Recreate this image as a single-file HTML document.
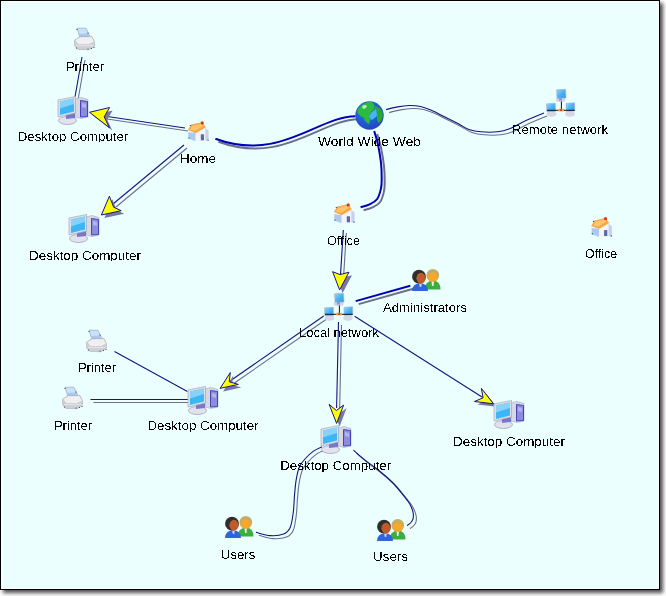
<!DOCTYPE html>
<html><head><meta charset="utf-8"><style>
html,body{margin:0;padding:0;background:#fff;width:666px;height:596px;overflow:hidden}
.frame{position:absolute;left:0;top:0;width:658px;height:588px;border:1px solid #000;background:#ecffff;box-shadow:inset 0 0 0 1px #fff, 3px 3px 4px rgba(0,0,0,0.7)}
svg{position:absolute;left:0;top:0}
text{font-family:"Liberation Sans",sans-serif;font-size:13px;fill:#000}
</style></head><body>
<div class="frame"></div>
<svg width="666" height="596" viewBox="0 0 666 596">
<defs><radialGradient id="gb" cx="0.4" cy="0.35" r="0.7"><stop offset="0" stop-color="#2a78e8"/><stop offset="0.8" stop-color="#1e50c8"/><stop offset="1" stop-color="#3a3ab0"/></radialGradient><linearGradient id="scr" x1="0" y1="0" x2="1" y2="1"><stop offset="0" stop-color="#9ad8fa"/><stop offset="0.5" stop-color="#4cb4f2"/><stop offset="1" stop-color="#3a8ee0"/></linearGradient><filter id="crisp" x="0" y="0" width="100%" height="100%"><feComponentTransfer><feFuncA type="discrete" tableValues="0 1"/></feComponentTransfer></filter></defs>
<path d="M82,57 L75,97" fill="none" stroke="#6c6e8a" stroke-width="1.1" transform="translate(3,3)"/><path d="M82,57 L75,97" fill="none" stroke="#14147c" stroke-width="1.1"/><path d="M185,128 L104,116" fill="none" stroke="#6c6e8a" stroke-width="1.1" transform="translate(3,3)"/><path d="M185,128 L104,116" fill="none" stroke="#14147c" stroke-width="1.1"/><polygon points="92.5,115.3 112.6,110.5 107.2,119.8 112.3,130.6" fill="#7676a8"/><polygon points="89.5,112.3 109.6,107.5 104.2,116.8 109.3,127.6" fill="#ffff00" stroke="#14147c" stroke-width="1.0" stroke-linejoin="miter"/><path d="M184,145 L113,204" fill="none" stroke="#6c6e8a" stroke-width="1.1" transform="translate(3,3)"/><path d="M184,145 L113,204" fill="none" stroke="#14147c" stroke-width="1.1"/><polygon points="104.4,218.0 112.4,199.2 116.7,210.2 124.2,213.7" fill="#7676a8"/><polygon points="101.4,215.0 109.4,196.2 113.7,207.2 121.2,210.7" fill="#ffff00" stroke="#14147c" stroke-width="1.0" stroke-linejoin="miter"/><path d="M215.4,138.7 C280.2,162.5 317.5,116.4 355.5,116.2" fill="none" stroke="#6c6e8a" stroke-width="2" transform="translate(3,3)"/><path d="M215.4,138.7 C280.2,162.5 317.5,116.4 355.5,116.2" fill="none" stroke="#0000b8" stroke-width="2"/><path d="M374.2,131 C374.8,133.3 376.9,139.3 378,144.6 C379.1,149.9 380.4,157.2 381,162.8 C381.6,168.4 381.7,173.6 381.7,177.9 C381.7,182.2 381.8,184.9 381,188.4 C380.2,191.9 379.1,196.3 377.2,199 C375.3,201.7 372.4,202.9 369.6,204.3 C366.8,205.7 362.1,206.8 360.6,207.3" fill="none" stroke="#6c6e8a" stroke-width="2" transform="translate(3,3)"/><path d="M374.2,131 C374.8,133.3 376.9,139.3 378,144.6 C379.1,149.9 380.4,157.2 381,162.8 C381.6,168.4 381.7,173.6 381.7,177.9 C381.7,182.2 381.8,184.9 381,188.4 C380.2,191.9 379.1,196.3 377.2,199 C375.3,201.7 372.4,202.9 369.6,204.3 C366.8,205.7 362.1,206.8 360.6,207.3" fill="none" stroke="#0000b8" stroke-width="2"/><path d="M386.1,109.6 C388.0,109.1 393.8,107.6 397.6,106.9 C401.4,106.2 405.2,105.6 409,105.5 C412.8,105.4 416.8,105.7 420.5,106.5 C424.2,107.3 427.3,108.5 431.4,110.3 C435.5,112.0 440.4,114.8 444.9,117 C449.4,119.2 454.4,121.7 458.4,123.8 C462.4,125.9 465.2,128.2 469,129.5 C472.8,130.8 476.2,131.4 481,131.8 C485.8,132.2 492.8,132.3 497.5,131.8 C502.2,131.3 504.8,130.7 509.5,128.8 C514.2,126.9 520.2,123.1 526,120.5 C531.8,117.9 541.0,114.2 544,113" fill="none" stroke="#6c6e8a" stroke-width="1.1" transform="translate(3,3)"/><path d="M386.1,109.6 C388.0,109.1 393.8,107.6 397.6,106.9 C401.4,106.2 405.2,105.6 409,105.5 C412.8,105.4 416.8,105.7 420.5,106.5 C424.2,107.3 427.3,108.5 431.4,110.3 C435.5,112.0 440.4,114.8 444.9,117 C449.4,119.2 454.4,121.7 458.4,123.8 C462.4,125.9 465.2,128.2 469,129.5 C472.8,130.8 476.2,131.4 481,131.8 C485.8,132.2 492.8,132.3 497.5,131.8 C502.2,131.3 504.8,130.7 509.5,128.8 C514.2,126.9 520.2,123.1 526,120.5 C531.8,117.9 541.0,114.2 544,113" fill="none" stroke="#14147c" stroke-width="1.1"/><path d="M343.3,230 L340.5,275" fill="none" stroke="#6c6e8a" stroke-width="1.1" transform="translate(3,3)"/><path d="M343.3,230 L340.5,275" fill="none" stroke="#14147c" stroke-width="1.1"/><polygon points="342.6,292.9 335.6,274.7 343.1,277.6 352.0,275.2" fill="#7676a8"/><polygon points="339.6,289.9 332.6,271.7 340.1,274.6 349.0,272.2" fill="#ffff00" stroke="#14147c" stroke-width="1.0" stroke-linejoin="miter"/><path d="M355.7,301.1 L410.3,285.7" fill="none" stroke="#6c6e8a" stroke-width="2" transform="translate(3,3)"/><path d="M355.7,301.1 L410.3,285.7" fill="none" stroke="#0000b8" stroke-width="2"/><path d="M323.7,316 L230,381" fill="none" stroke="#6c6e8a" stroke-width="1.1" transform="translate(3,3)"/><path d="M323.7,316 L230,381" fill="none" stroke="#14147c" stroke-width="1.1"/><polygon points="223.1,391.4 233.3,375.6 232.2,384.7 241.3,387.4" fill="#7676a8"/><polygon points="220.1,388.4 230.3,372.6 229.2,381.7 238.3,384.4" fill="#ffff00" stroke="#14147c" stroke-width="1.0" stroke-linejoin="miter"/><path d="M338.5,322 L336.6,408" fill="none" stroke="#6c6e8a" stroke-width="1.1" transform="translate(3,3)"/><path d="M338.5,322 L336.6,408" fill="none" stroke="#14147c" stroke-width="1.1"/><polygon points="339.6,426.4 332.1,407.3 339.4,413.5 346.6,408.1" fill="#7676a8"/><polygon points="336.6,423.4 329.1,404.3 336.4,410.5 343.6,405.1" fill="#ffff00" stroke="#14147c" stroke-width="1.0" stroke-linejoin="miter"/><path d="M354.6,316.3 L482.4,397.2" fill="none" stroke="#14147c" stroke-width="1.1"/><polygon points="496.5,406.8 484.4,391.4 486.1,400.8 477.4,404.5" fill="#7676a8"/><polygon points="493.5,403.8 481.4,388.4 483.1,397.8 474.4,401.5" fill="#ffff00" stroke="#14147c" stroke-width="1.0" stroke-linejoin="miter"/><path d="M114.5,351.5 L187.4,391.4" fill="none" stroke="#14147c" stroke-width="1.1"/><path d="M90.5,399.5 L188.5,399.5" fill="none" stroke="#6c6e8a" stroke-width="1.1" transform="translate(3,3)"/><path d="M90.5,399.5 L188.5,399.5" fill="none" stroke="#14147c" stroke-width="1.1"/><path d="M322.1,446.7 C320.7,447.4 316.6,448.9 313.8,450.9 C311.0,452.9 307.8,455.9 305.4,458.5 C303.0,461.1 301.1,463.2 299.5,466.8 C297.9,470.4 296.9,475.5 296.1,480.3 C295.3,485.1 295.0,490.1 294.5,495.4 C294.0,500.7 294.0,506.8 293.3,512.1 C292.6,517.4 291.9,523.6 290.3,527.2 C288.7,530.9 287.0,532.6 283.6,534 C280.2,535.4 274.7,535.9 270.1,535.6 C265.5,535.3 258.3,532.8 255.9,532.3" fill="none" stroke="#6c6e8a" stroke-width="1.1" transform="translate(3,3)"/><path d="M322.1,446.7 C320.7,447.4 316.6,448.9 313.8,450.9 C311.0,452.9 307.8,455.9 305.4,458.5 C303.0,461.1 301.1,463.2 299.5,466.8 C297.9,470.4 296.9,475.5 296.1,480.3 C295.3,485.1 295.0,490.1 294.5,495.4 C294.0,500.7 294.0,506.8 293.3,512.1 C292.6,517.4 291.9,523.6 290.3,527.2 C288.7,530.9 287.0,532.6 283.6,534 C280.2,535.4 274.7,535.9 270.1,535.6 C265.5,535.3 258.3,532.8 255.9,532.3" fill="none" stroke="#14147c" stroke-width="1.1"/><path d="M353.4,450.1 C355.3,451.8 360.9,456.8 365.1,460.1 C369.3,463.5 374.1,466.6 378.6,470.2 C383.1,473.8 388.1,478.1 392,482 C395.9,485.9 399.1,490.1 402,493.7 C404.9,497.3 407.8,500.7 409.6,503.8 C411.4,506.9 412.4,509.6 413,512.1 C413.6,514.6 413.4,517.1 413,518.9 C412.6,520.7 411.4,521.9 410.4,523 C409.4,524.1 407.7,525.2 407.1,525.6" fill="none" stroke="#6c6e8a" stroke-width="1.1" transform="translate(3,3)"/><path d="M353.4,450.1 C355.3,451.8 360.9,456.8 365.1,460.1 C369.3,463.5 374.1,466.6 378.6,470.2 C383.1,473.8 388.1,478.1 392,482 C395.9,485.9 399.1,490.1 402,493.7 C404.9,497.3 407.8,500.7 409.6,503.8 C411.4,506.9 412.4,509.6 413,512.1 C413.6,514.6 413.4,517.1 413,518.9 C412.6,520.7 411.4,521.9 410.4,523 C409.4,524.1 407.7,525.2 407.1,525.6" fill="none" stroke="#14147c" stroke-width="1.1"/>
<g transform="translate(75,28)">
  <polygon points="2,0.2 11,0.2 14.7,8 5,9.8" fill="#c8e2fa" stroke="#8a9cb8" stroke-width="0.6"/>
  <polygon points="4,6 13.5,5.5 14.7,8 5,9.8" fill="#a8c8f0"/>
  <path d="M-0.4,12 L5,8.5 L17,8.5 L19.5,13.5 L19.5,18 L14,21.8 L3,21.4 L-0.4,18 Z" fill="#cfcfd6" stroke="#a4a4ac" stroke-width="0.5"/>
  <path d="M0.5,12.2 L5.5,9.2 L16.5,9.2 L18.8,13.4 L14,16 L3.5,16 Z" fill="#f0f0f3"/>
  <path d="M1,17.5 L18.5,17.5" stroke="#e8e8ec" stroke-width="0.8"/>
  <circle cx="1.5" cy="20" r="0.6" fill="#303030"/>
  <circle cx="13" cy="21" r="0.6" fill="#303030"/>
  <circle cx="16.5" cy="20.5" r="0.6" fill="#303030"/>
  <circle cx="19" cy="19.5" r="0.6" fill="#303030"/>
  <circle cx="2" cy="1.5" r="0.6" fill="#303030"/>
  <circle cx="13" cy="5" r="0.6" fill="#303030"/>
</g><g transform="translate(58,96)">
  <polygon points="17,3 23,1.5 30,3.5 30,21 23,22.5 17,21" fill="#d6d8e4" stroke="#a8aac0" stroke-width="0.6"/>
  <polygon points="22.5,4.5 29.5,5.5 29.5,20.5 22.5,21" fill="#8c8cdc" stroke="#3a3ab8" stroke-width="0.9"/>
  <polygon points="24,7 28,8 28,12 24,11" fill="#b4b4ec"/>
  <ellipse cx="9.5" cy="24.5" rx="9" ry="4" fill="#e2e2ec" stroke="#9a9ab4" stroke-width="0.7"/>
  <polygon points="8,18 17,16 17,22 8,23" fill="#7878c8"/>
  <polygon points="0,4 17.5,0.5 17.5,17 0,21" fill="#dde0ea" stroke="#a4a8bc" stroke-width="0.7"/>
  <polygon points="2,5.5 16,2.5 16,15.5 2,19" fill="#3cb6f4"/>
  <polygon points="2,5.5 16,2.5 16,8 2,12.5" fill="#86d2f8"/>
</g><g transform="translate(69,214)">
  <polygon points="17,3 23,1.5 30,3.5 30,21 23,22.5 17,21" fill="#d6d8e4" stroke="#a8aac0" stroke-width="0.6"/>
  <polygon points="22.5,4.5 29.5,5.5 29.5,20.5 22.5,21" fill="#8c8cdc" stroke="#3a3ab8" stroke-width="0.9"/>
  <polygon points="24,7 28,8 28,12 24,11" fill="#b4b4ec"/>
  <ellipse cx="9.5" cy="24.5" rx="9" ry="4" fill="#e2e2ec" stroke="#9a9ab4" stroke-width="0.7"/>
  <polygon points="8,18 17,16 17,22 8,23" fill="#7878c8"/>
  <polygon points="0,4 17.5,0.5 17.5,17 0,21" fill="#dde0ea" stroke="#a4a8bc" stroke-width="0.7"/>
  <polygon points="2,5.5 16,2.5 16,15.5 2,19" fill="#3cb6f4"/>
  <polygon points="2,5.5 16,2.5 16,8 2,12.5" fill="#86d2f8"/>
</g><g transform="translate(188.5,121.5)">
  <polygon points="-0.2,10.5 7.2,11.8 7.2,19.7 -0.2,16.9" fill="#aacaf0"/>
  <polygon points="7.2,11.8 16.4,4 20.1,9.1 20.1,18.8 7.2,19.7" fill="#f4f4fb"/>
  <polygon points="16.8,6.5 20.1,9.1 20.1,18.8 16.8,19" fill="#c4d2ee"/>
  <rect x="12.3" y="12.8" width="3.2" height="6" fill="#5868a8"/>
  <polygon points="-0.6,8.6 2.6,3.1 13.7,0.8 17.4,5.8 7.2,11.8" fill="#f4a848"/>
  <polygon points="1.5,8.3 3.8,4.3 12.8,2.2 14.5,4.2 6.5,9.5" fill="#ffc46c"/>
  <circle cx="13.7" cy="1.4" r="1.6" fill="#d83820"/>
  <circle cx="1.8" cy="4" r="0.6" fill="#202020"/>
  <circle cx="0.5" cy="16.5" r="0.6" fill="#202020"/>
  <circle cx="19.5" cy="18.6" r="0.6" fill="#202020"/>
</g><g transform="translate(355,101)">
  
  <circle cx="14.5" cy="14.5" r="14.2" fill="url(#gb)"/>
  <path d="M2.5,9 Q7,1.5 16,0.8 Q21,3 19,8 Q15,11 14,15 Q16,19 14,23 Q10,21 9,17 Q5,15 2.5,12 Z" fill="#2cbc3c"/>
  <path d="M20,5 Q25,6 27.5,11 Q29,18 24,22 Q21,20 22,15 Q19,11 20,5 Z" fill="#28a836"/>
  <path d="M14,15 Q17,10 21,8 Q22,13 22,15 Q19,18 16,19 Z" fill="#48b4f4"/>
  <path d="M7,5 Q10,3 12,5 Q11,8 8,8 Z" fill="#b8ecc0"/>
</g><g transform="translate(546,88)">
  
  <ellipse cx="14.7" cy="11.8" rx="5" ry="2.3" fill="#d4d4e2"/>
  <rect x="13" y="9.5" width="3" height="3" fill="#9890c8"/>
  <polygon points="10.5,1.8 19.5,1.2 20,10 11,10.3" fill="url(#scr)" stroke="#a0b4cc" stroke-width="0.6"/>
  <line x1="15.4" y1="13.5" x2="15.4" y2="22.2" stroke="#111" stroke-width="1"/>
  <ellipse cx="5.5" cy="26" rx="4.8" ry="2.8" fill="#d6d6e4"/>
  <ellipse cx="24" cy="26" rx="4.8" ry="2.8" fill="#d6d6e4"/>
  <polygon points="0.5,15.8 9.3,15.2 9.5,23.4 0.8,23.7" fill="url(#scr)" stroke="#a0b4cc" stroke-width="0.6"/>
  <polygon points="20,15.3 28.6,14.8 28.8,23 20.2,23.3" fill="url(#scr)" stroke="#a0b4cc" stroke-width="0.6"/>
  <line x1="1" y1="22.3" x2="28.7" y2="22.3" stroke="#111" stroke-width="1"/>
  <rect x="12" y="20.8" width="6" height="2.6" fill="#e8a848"/>
  <rect x="14" y="21.3" width="2" height="1.6" fill="#d03020"/>
</g><g transform="translate(334.5,203.5)">
  <polygon points="-0.2,10.5 7.2,11.8 7.2,19.7 -0.2,16.9" fill="#aacaf0"/>
  <polygon points="7.2,11.8 16.4,4 20.1,9.1 20.1,18.8 7.2,19.7" fill="#f4f4fb"/>
  <polygon points="16.8,6.5 20.1,9.1 20.1,18.8 16.8,19" fill="#c4d2ee"/>
  <rect x="12.3" y="12.8" width="3.2" height="6" fill="#5868a8"/>
  <polygon points="-0.6,8.6 2.6,3.1 13.7,0.8 17.4,5.8 7.2,11.8" fill="#f4a848"/>
  <polygon points="1.5,8.3 3.8,4.3 12.8,2.2 14.5,4.2 6.5,9.5" fill="#ffc46c"/>
  <circle cx="13.7" cy="1.4" r="1.6" fill="#d83820"/>
  <circle cx="1.8" cy="4" r="0.6" fill="#202020"/>
  <circle cx="0.5" cy="16.5" r="0.6" fill="#202020"/>
  <circle cx="19.5" cy="18.6" r="0.6" fill="#202020"/>
</g><g transform="translate(591.8,217.3)">
  <polygon points="-0.2,10.5 7.2,11.8 7.2,19.7 -0.2,16.9" fill="#aacaf0"/>
  <polygon points="7.2,11.8 16.4,4 20.1,9.1 20.1,18.8 7.2,19.7" fill="#f4f4fb"/>
  <polygon points="16.8,6.5 20.1,9.1 20.1,18.8 16.8,19" fill="#c4d2ee"/>
  <rect x="12.3" y="12.8" width="3.2" height="6" fill="#5868a8"/>
  <polygon points="-0.6,8.6 2.6,3.1 13.7,0.8 17.4,5.8 7.2,11.8" fill="#f4a848"/>
  <polygon points="1.5,8.3 3.8,4.3 12.8,2.2 14.5,4.2 6.5,9.5" fill="#ffc46c"/>
  <circle cx="13.7" cy="1.4" r="1.6" fill="#d83820"/>
  <circle cx="1.8" cy="4" r="0.6" fill="#202020"/>
  <circle cx="0.5" cy="16.5" r="0.6" fill="#202020"/>
  <circle cx="19.5" cy="18.6" r="0.6" fill="#202020"/>
</g><g transform="translate(324,292)">
  
  <ellipse cx="14.7" cy="11.8" rx="5" ry="2.3" fill="#d4d4e2"/>
  <rect x="13" y="9.5" width="3" height="3" fill="#9890c8"/>
  <polygon points="10.5,1.8 19.5,1.2 20,10 11,10.3" fill="url(#scr)" stroke="#a0b4cc" stroke-width="0.6"/>
  <line x1="15.4" y1="13.5" x2="15.4" y2="22.2" stroke="#111" stroke-width="1"/>
  <ellipse cx="5.5" cy="26" rx="4.8" ry="2.8" fill="#d6d6e4"/>
  <ellipse cx="24" cy="26" rx="4.8" ry="2.8" fill="#d6d6e4"/>
  <polygon points="0.5,15.8 9.3,15.2 9.5,23.4 0.8,23.7" fill="url(#scr)" stroke="#a0b4cc" stroke-width="0.6"/>
  <polygon points="20,15.3 28.6,14.8 28.8,23 20.2,23.3" fill="url(#scr)" stroke="#a0b4cc" stroke-width="0.6"/>
  <line x1="1" y1="22.3" x2="28.7" y2="22.3" stroke="#111" stroke-width="1"/>
  <rect x="12" y="20.8" width="6" height="2.6" fill="#e8a848"/>
  <rect x="14" y="21.3" width="2" height="1.6" fill="#d03020"/>
</g><g transform="translate(409,267)">
  <path d="M15.5,22.5 Q16,14 24,13.6 Q31.5,14 31.5,22.5 Z" fill="#3cae40"/>
  <path d="M22.5,14 L25,14 L24.5,19 L23,19 Z" fill="#e8f4e8"/>
  <circle cx="23.8" cy="8.3" r="6.3" fill="#c4ac64"/>
  <ellipse cx="23.8" cy="10.2" rx="5.3" ry="4.6" fill="#f4a830"/>
  <path d="M3,24 Q3.5,16.5 11,16.3 Q18.5,16.5 19,24 Z" fill="#3064dc"/>
  <path d="M10,16.5 L13,16.5 L12.2,20 L10.8,20 Z" fill="#b8d0f4"/>
  <circle cx="10" cy="9.7" r="6.9" fill="#2e2e2e"/>
  <ellipse cx="12" cy="11.2" rx="4.6" ry="5.4" fill="#c05a28"/>
</g><g transform="translate(87,330)">
  <polygon points="2,0.2 11,0.2 14.7,8 5,9.8" fill="#c8e2fa" stroke="#8a9cb8" stroke-width="0.6"/>
  <polygon points="4,6 13.5,5.5 14.7,8 5,9.8" fill="#a8c8f0"/>
  <path d="M-0.4,12 L5,8.5 L17,8.5 L19.5,13.5 L19.5,18 L14,21.8 L3,21.4 L-0.4,18 Z" fill="#cfcfd6" stroke="#a4a4ac" stroke-width="0.5"/>
  <path d="M0.5,12.2 L5.5,9.2 L16.5,9.2 L18.8,13.4 L14,16 L3.5,16 Z" fill="#f0f0f3"/>
  <path d="M1,17.5 L18.5,17.5" stroke="#e8e8ec" stroke-width="0.8"/>
  <circle cx="1.5" cy="20" r="0.6" fill="#303030"/>
  <circle cx="13" cy="21" r="0.6" fill="#303030"/>
  <circle cx="16.5" cy="20.5" r="0.6" fill="#303030"/>
  <circle cx="19" cy="19.5" r="0.6" fill="#303030"/>
  <circle cx="2" cy="1.5" r="0.6" fill="#303030"/>
  <circle cx="13" cy="5" r="0.6" fill="#303030"/>
</g><g transform="translate(63,387)">
  <polygon points="2,0.2 11,0.2 14.7,8 5,9.8" fill="#c8e2fa" stroke="#8a9cb8" stroke-width="0.6"/>
  <polygon points="4,6 13.5,5.5 14.7,8 5,9.8" fill="#a8c8f0"/>
  <path d="M-0.4,12 L5,8.5 L17,8.5 L19.5,13.5 L19.5,18 L14,21.8 L3,21.4 L-0.4,18 Z" fill="#cfcfd6" stroke="#a4a4ac" stroke-width="0.5"/>
  <path d="M0.5,12.2 L5.5,9.2 L16.5,9.2 L18.8,13.4 L14,16 L3.5,16 Z" fill="#f0f0f3"/>
  <path d="M1,17.5 L18.5,17.5" stroke="#e8e8ec" stroke-width="0.8"/>
  <circle cx="1.5" cy="20" r="0.6" fill="#303030"/>
  <circle cx="13" cy="21" r="0.6" fill="#303030"/>
  <circle cx="16.5" cy="20.5" r="0.6" fill="#303030"/>
  <circle cx="19" cy="19.5" r="0.6" fill="#303030"/>
  <circle cx="2" cy="1.5" r="0.6" fill="#303030"/>
  <circle cx="13" cy="5" r="0.6" fill="#303030"/>
</g><g transform="translate(188,386)">
  <polygon points="17,3 23,1.5 30,3.5 30,21 23,22.5 17,21" fill="#d6d8e4" stroke="#a8aac0" stroke-width="0.6"/>
  <polygon points="22.5,4.5 29.5,5.5 29.5,20.5 22.5,21" fill="#8c8cdc" stroke="#3a3ab8" stroke-width="0.9"/>
  <polygon points="24,7 28,8 28,12 24,11" fill="#b4b4ec"/>
  <ellipse cx="9.5" cy="24.5" rx="9" ry="4" fill="#e2e2ec" stroke="#9a9ab4" stroke-width="0.7"/>
  <polygon points="8,18 17,16 17,22 8,23" fill="#7878c8"/>
  <polygon points="0,4 17.5,0.5 17.5,17 0,21" fill="#dde0ea" stroke="#a4a8bc" stroke-width="0.7"/>
  <polygon points="2,5.5 16,2.5 16,15.5 2,19" fill="#3cb6f4"/>
  <polygon points="2,5.5 16,2.5 16,8 2,12.5" fill="#86d2f8"/>
</g><g transform="translate(321,425)">
  <polygon points="17,3 23,1.5 30,3.5 30,21 23,22.5 17,21" fill="#d6d8e4" stroke="#a8aac0" stroke-width="0.6"/>
  <polygon points="22.5,4.5 29.5,5.5 29.5,20.5 22.5,21" fill="#8c8cdc" stroke="#3a3ab8" stroke-width="0.9"/>
  <polygon points="24,7 28,8 28,12 24,11" fill="#b4b4ec"/>
  <ellipse cx="9.5" cy="24.5" rx="9" ry="4" fill="#e2e2ec" stroke="#9a9ab4" stroke-width="0.7"/>
  <polygon points="8,18 17,16 17,22 8,23" fill="#7878c8"/>
  <polygon points="0,4 17.5,0.5 17.5,17 0,21" fill="#dde0ea" stroke="#a4a8bc" stroke-width="0.7"/>
  <polygon points="2,5.5 16,2.5 16,15.5 2,19" fill="#3cb6f4"/>
  <polygon points="2,5.5 16,2.5 16,8 2,12.5" fill="#86d2f8"/>
</g><g transform="translate(494,400)">
  <polygon points="17,3 23,1.5 30,3.5 30,21 23,22.5 17,21" fill="#d6d8e4" stroke="#a8aac0" stroke-width="0.6"/>
  <polygon points="22.5,4.5 29.5,5.5 29.5,20.5 22.5,21" fill="#8c8cdc" stroke="#3a3ab8" stroke-width="0.9"/>
  <polygon points="24,7 28,8 28,12 24,11" fill="#b4b4ec"/>
  <ellipse cx="9.5" cy="24.5" rx="9" ry="4" fill="#e2e2ec" stroke="#9a9ab4" stroke-width="0.7"/>
  <polygon points="8,18 17,16 17,22 8,23" fill="#7878c8"/>
  <polygon points="0,4 17.5,0.5 17.5,17 0,21" fill="#dde0ea" stroke="#a4a8bc" stroke-width="0.7"/>
  <polygon points="2,5.5 16,2.5 16,15.5 2,19" fill="#3cb6f4"/>
  <polygon points="2,5.5 16,2.5 16,8 2,12.5" fill="#86d2f8"/>
</g><g transform="translate(222,514)">
  <path d="M15.5,22.5 Q16,14 24,13.6 Q31.5,14 31.5,22.5 Z" fill="#3cae40"/>
  <path d="M22.5,14 L25,14 L24.5,19 L23,19 Z" fill="#e8f4e8"/>
  <circle cx="23.8" cy="8.3" r="6.3" fill="#c4ac64"/>
  <ellipse cx="23.8" cy="10.2" rx="5.3" ry="4.6" fill="#f4a830"/>
  <path d="M3,24 Q3.5,16.5 11,16.3 Q18.5,16.5 19,24 Z" fill="#3064dc"/>
  <path d="M10,16.5 L13,16.5 L12.2,20 L10.8,20 Z" fill="#b8d0f4"/>
  <circle cx="10" cy="9.7" r="6.9" fill="#2e2e2e"/>
  <ellipse cx="12" cy="11.2" rx="4.6" ry="5.4" fill="#c05a28"/>
</g><g transform="translate(374,517)">
  <path d="M15.5,22.5 Q16,14 24,13.6 Q31.5,14 31.5,22.5 Z" fill="#3cae40"/>
  <path d="M22.5,14 L25,14 L24.5,19 L23,19 Z" fill="#e8f4e8"/>
  <circle cx="23.8" cy="8.3" r="6.3" fill="#c4ac64"/>
  <ellipse cx="23.8" cy="10.2" rx="5.3" ry="4.6" fill="#f4a830"/>
  <path d="M3,24 Q3.5,16.5 11,16.3 Q18.5,16.5 19,24 Z" fill="#3064dc"/>
  <path d="M10,16.5 L13,16.5 L12.2,20 L10.8,20 Z" fill="#b8d0f4"/>
  <circle cx="10" cy="9.7" r="6.9" fill="#2e2e2e"/>
  <ellipse cx="12" cy="11.2" rx="4.6" ry="5.4" fill="#c05a28"/>
</g>
<g filter="url(#crisp)"><clipPath id="c0"><rect x="63.0" y="57" width="44" height="15.6"/></clipPath><text x="66.0" y="71" textLength="38" lengthAdjust="spacingAndGlyphs" clip-path="url(#c0)">Printer</text><clipPath id="c1"><rect x="14.75" y="126.6" width="116.5" height="15.6"/></clipPath><text x="17.8" y="140.6" textLength="110.5" lengthAdjust="spacingAndGlyphs" clip-path="url(#c1)">Desktop Computer</text><clipPath id="c2"><rect x="177.0" y="149" width="42" height="15.6"/></clipPath><text x="180.0" y="163" textLength="36" lengthAdjust="spacingAndGlyphs" clip-path="url(#c2)">Home</text><clipPath id="c3"><rect x="26.0" y="246" width="118" height="15.6"/></clipPath><text x="29.0" y="260" textLength="112" lengthAdjust="spacingAndGlyphs" clip-path="url(#c3)">Desktop Computer</text><clipPath id="c4"><rect x="315.0" y="131.7" width="109" height="15.6"/></clipPath><text x="318.0" y="145.7" textLength="103" lengthAdjust="spacingAndGlyphs" clip-path="url(#c4)">World Wide Web</text><clipPath id="c5"><rect x="509.0" y="120" width="102" height="15.6"/></clipPath><text x="512.0" y="134" textLength="96" lengthAdjust="spacingAndGlyphs" clip-path="url(#c5)">Remote network</text><clipPath id="c6"><rect x="324.0" y="231" width="39" height="15.6"/></clipPath><text x="327.0" y="245" textLength="33" lengthAdjust="spacingAndGlyphs" clip-path="url(#c6)">Office</text><clipPath id="c7"><rect x="582.0" y="244.3" width="38" height="15.6"/></clipPath><text x="585.0" y="258.3" textLength="32" lengthAdjust="spacingAndGlyphs" clip-path="url(#c7)">Office</text><clipPath id="c8"><rect x="296.0" y="322.7" width="86" height="15.6"/></clipPath><text x="299.0" y="336.7" textLength="80" lengthAdjust="spacingAndGlyphs" clip-path="url(#c8)">Local network</text><clipPath id="c9"><rect x="380.0" y="297.7" width="90" height="15.6"/></clipPath><text x="383.0" y="311.7" textLength="84" lengthAdjust="spacingAndGlyphs" clip-path="url(#c9)">Administrators</text><clipPath id="c10"><rect x="75.0" y="358" width="44" height="15.6"/></clipPath><text x="78.0" y="372" textLength="38" lengthAdjust="spacingAndGlyphs" clip-path="url(#c10)">Printer</text><clipPath id="c11"><rect x="51.0" y="416.3" width="44" height="15.6"/></clipPath><text x="54.0" y="430.3" textLength="38" lengthAdjust="spacingAndGlyphs" clip-path="url(#c11)">Printer</text><clipPath id="c12"><rect x="144.4" y="416.3" width="117.2" height="15.6"/></clipPath><text x="147.4" y="430.3" textLength="111.2" lengthAdjust="spacingAndGlyphs" clip-path="url(#c12)">Desktop Computer</text><clipPath id="c13"><rect x="277.2" y="456.3" width="117" height="15.6"/></clipPath><text x="280.2" y="470.3" textLength="111" lengthAdjust="spacingAndGlyphs" clip-path="url(#c13)">Desktop Computer</text><clipPath id="c14"><rect x="450.0" y="432.3" width="118" height="15.6"/></clipPath><text x="453.0" y="446.3" textLength="112" lengthAdjust="spacingAndGlyphs" clip-path="url(#c14)">Desktop Computer</text><clipPath id="c15"><rect x="217.7" y="544.6" width="40.6" height="15.6"/></clipPath><text x="220.7" y="558.6" textLength="34.6" lengthAdjust="spacingAndGlyphs" clip-path="url(#c15)">Users</text><clipPath id="c16"><rect x="370.0" y="547.3" width="41" height="15.6"/></clipPath><text x="373.0" y="561.3" textLength="35" lengthAdjust="spacingAndGlyphs" clip-path="url(#c16)">Users</text></g>
</svg>
</body></html>
